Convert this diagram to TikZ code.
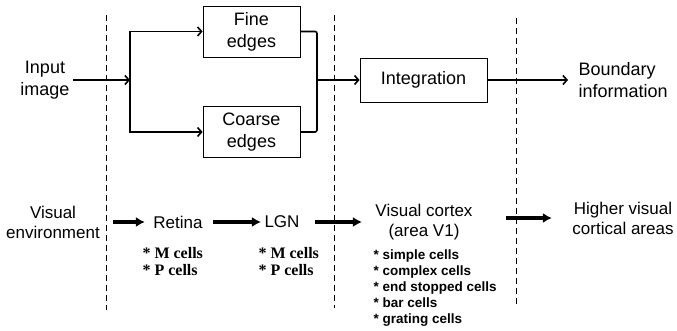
\documentclass[tikz,border=0pt]{standalone}
\usepackage{fontspec}
\setmainfont{Liberation Sans}
\newfontfamily\timesfont{Liberation Serif}
\usetikzlibrary{arrows.meta, positioning}

\begin{document}
\begin{tikzpicture}[x=1pt, y=-1pt,
  box/.style={draw, line width=0.8pt, minimum width=97pt, minimum height=51pt, align=center, font=\fontsize{18}{22}\selectfont},
  lbl/.style={align=center, font=\fontsize{18}{22}\selectfont},
  lbl2/.style={align=center, font=\fontsize{17}{20}\selectfont},
  flow/.style={line width=1.6pt, -{Straight Barb[length=4pt,width=9pt]}},
  bigarr/.style={line width=3.2pt, -{Latex[length=9pt,width=10pt]}},
  sep/.style={line width=0.8pt, dash pattern=on 6pt off 4pt},
  mplist/.style={align=left, anchor=north west, font=\timesfont\bfseries\fontsize{16}{17}\selectfont},
  celllist/.style={align=left, anchor=north west, font=\bfseries\fontsize{13.5}{16}\selectfont}]
\useasboundingbox (0,0) rectangle (677,331);
% separators
\draw[sep] (106,15) -- (106,310);
\draw[sep] (334,15) -- (334,308);
\draw[sep] (516,18) -- (516,307);
% top row
\node[lbl] (input) at (45,80) {Input\\image};
\coordinate (split) at (130,80);
\node[box] (fine) at (251.5,31.5) {Fine\\edges};
\node[box] (coarse) at (251.5,132) {Coarse\\edges};
\coordinate (merge) at (317,80);
\node[box, minimum width=127pt, minimum height=44pt] (integ) at (423.5,80) {Integration};
\node[lbl, align=left, anchor=west] (bound) at (575,80) {Boundary\\information};
\draw[flow] (input) -- (split);
\draw[flow] (split) |- (fine);
\draw[flow] (split) |- (coarse);
\draw[line width=1.6pt, rounded corners=2pt] (fine) -| (merge) |- (coarse);
\draw[flow] (merge) -- (integ);
\draw[flow, shorten >=7pt] (integ) -- (bound);
% bottom row
\node[lbl2] (env) at (53,222) {Visual\\environment};
\node[lbl2] (retina) at (178,222) {Retina};
\node[lbl2] (lgn) at (282,222) {LGN};
\node[lbl2] (cortex) at (424,222) {Visual cortex\\(area V1)};
\node[lbl2] (higher) at (623,218) {Higher visual\\cortical areas};
\draw[bigarr, shorten <=10pt, shorten >=5pt] (env) -- (retina);
\draw[bigarr, shorten <=7pt] (retina) -- (lgn);
\draw[bigarr, shorten <=12pt, shorten >=10pt] (lgn) -- (cortex);
\draw[bigarr, shorten <=30pt, shorten >=17pt] (cortex.east |- higher.west) -- (higher.west);
\node[mplist] (retlist) at (139,244) {* M cells\\* P cells};
\node[mplist] (lgnlist) at (255,244) {* M cells\\* P cells};
\node[celllist] (cortexlist) at (370,246) {* simple cells\\* complex cells\\* end stopped cells\\* bar cells\\* grating cells};
\end{tikzpicture}
\end{document}
